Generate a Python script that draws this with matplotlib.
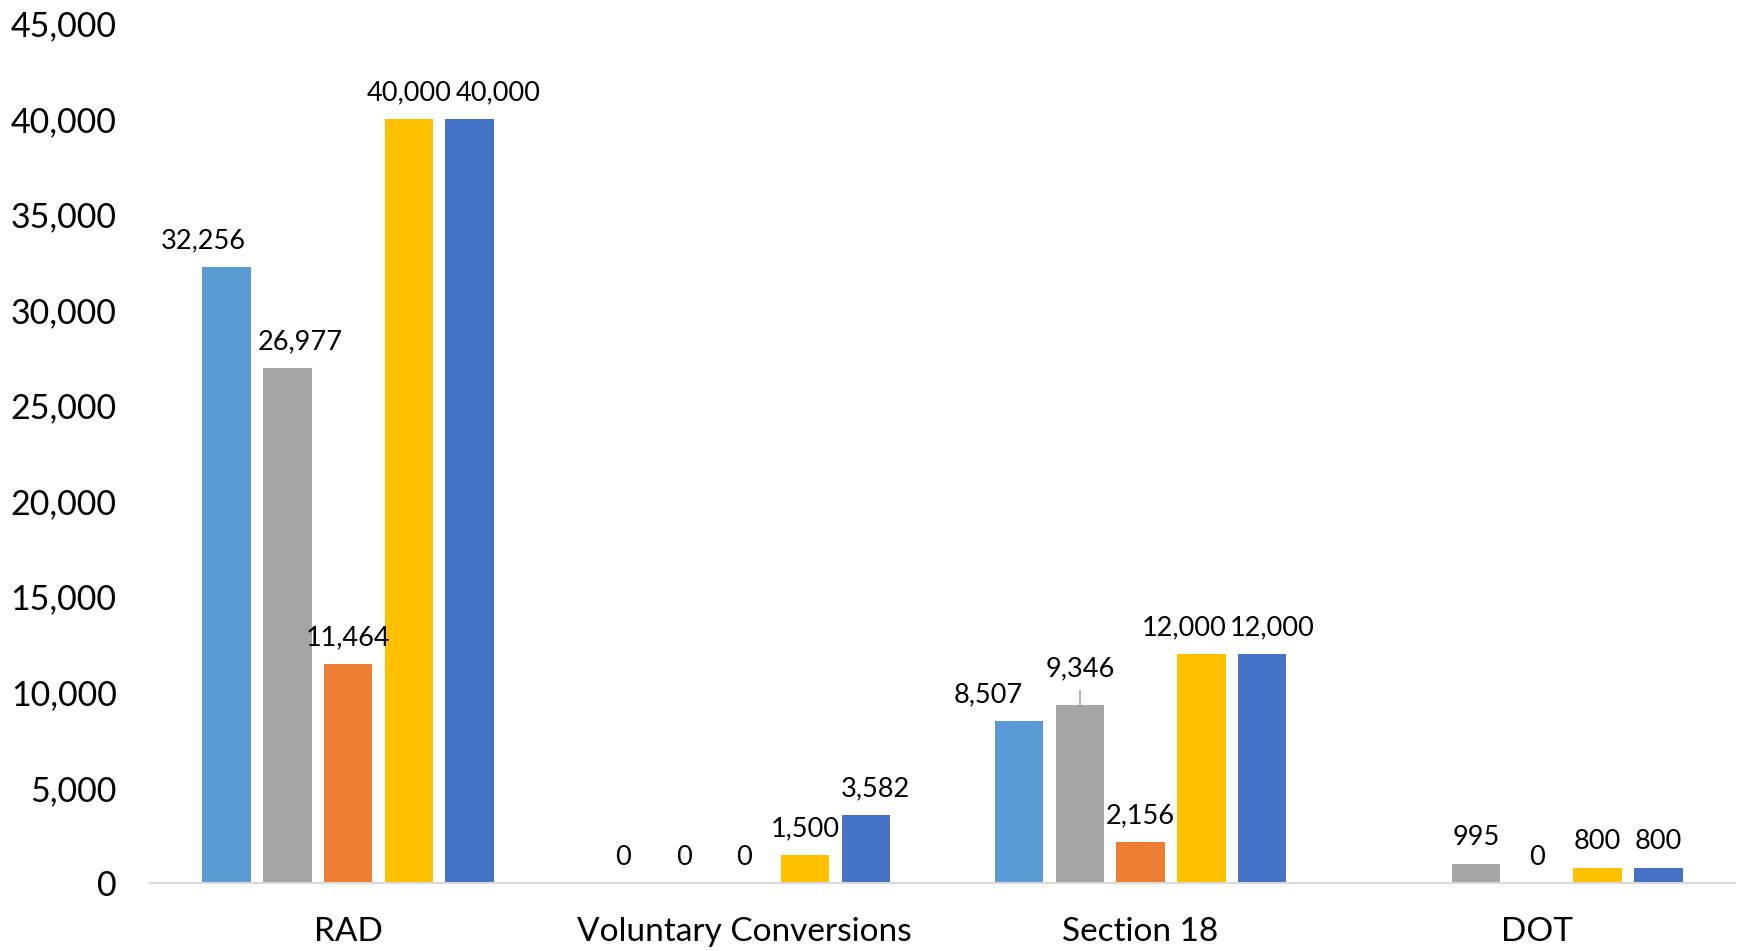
import numpy as np
import matplotlib
matplotlib.use("Agg")
import matplotlib.pyplot as plt

plt.rcParams['font.family'] = ['Lato', 'DejaVu Sans']

categories = ["RAD", "Voluntary Conversions", "Section 18", "DOT"]
series_1 = [32256, 0, 8507, np.nan]
series_2 = [26977, 0, 9346, 995]
series_3 = [11464, 0, 2156, 0]
series_4 = [40000, 1500, 12000, 800]
series_5 = [40000, 3582, 12000, 800]
series = [series_1, series_2, series_3, series_4, series_5]
colors = ["#5B9BD5", "#A5A5A5", "#ED7D31", "#FFC000", "#4472C4"]

# label nudges (x px, y px) to mimic the reference placement
nudges = {
    (0, 0): (-23, 0), (1, 0): (13, 0), (4, 0): (29, 0),
    (4, 1): (10, 0),
    (0, 2): (-31, 0), (1, 2): (0, 10), (3, 2): (-17, 0), (4, 2): (10, 0),
}

fig = plt.figure(figsize=(17.38, 9.51), dpi=100)
ax = fig.add_axes([150/1738, 1-883.4/951, (1735-150)/1738, (883.4-23.3)/951])

x = np.arange(len(categories))
step = 0.1533
width = 0.1227
for i, (vals, c) in enumerate(zip(series, colors)):
    pos = x + (i - 2) * step
    ax.bar(pos, vals, width=width, color=c, zorder=2)
    for j, v in enumerate(vals):
        if np.isnan(v):
            continue
        dx, dy = nudges.get((i, j), (0, 0))
        ax.annotate(f"{int(v):,}", (pos[j], v), xytext=(dx * 0.72, 10 + dy * 0.72),
                    textcoords="offset points", ha="center", va="bottom",
                    fontsize=19.5, color="#000000")
        if (i, j) == (1, 2):
            ax.plot([pos[j], pos[j]], [v, v + 700], color="#A5A5A5", lw=1.2, zorder=3)

ax.set_xlim(-0.5, 3.5)
ax.set_ylim(0, 45000)
ax.set_yticks(np.arange(0, 45001, 5000))
ax.set_yticklabels([f"{t:,}" for t in range(0, 45001, 5000)], fontsize=24.5)
ax.set_xticks(x)
ax.set_xticklabels(categories, fontsize=24)
ax.tick_params(axis='both', length=0)
ax.tick_params(axis='y', pad=24)
ax.tick_params(axis='x', pad=24)
for s in ['top', 'right', 'left']:
    ax.spines[s].set_visible(False)
ax.spines['bottom'].set_color("#D9D9D9")
ax.spines['bottom'].set_linewidth(1.5)

fig.savefig("out.png", dpi=100)
